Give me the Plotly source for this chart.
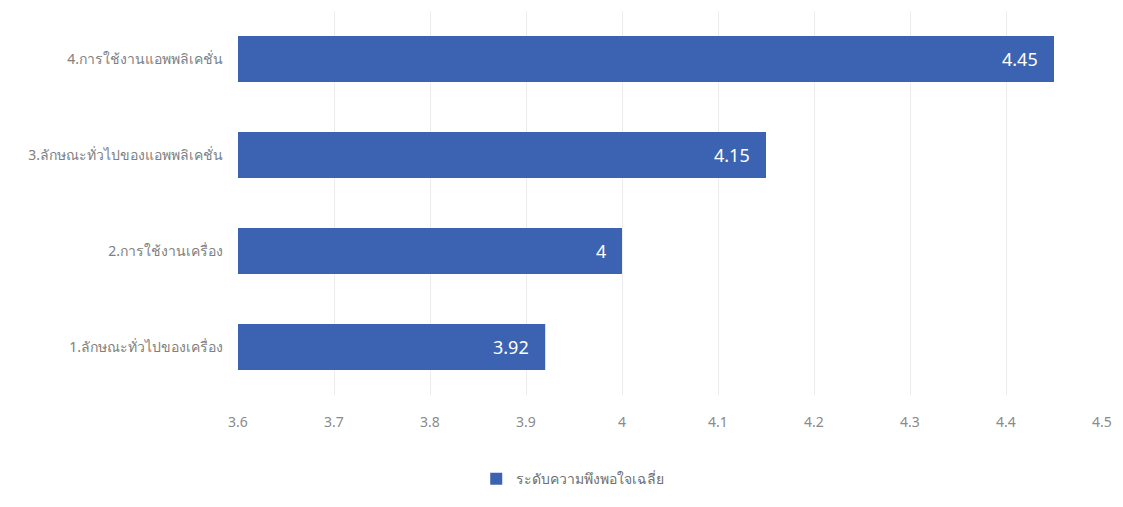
import plotly.graph_objects as go

categories = [
    "1.ลักษณะทั่วไปของเครื่อง",
    "2.การใช้งานเครื่อง",
    "3.ลักษณะทั่วไปของแอพพลิเคชั่น",
    "4.การใช้งานแอพพลิเคชั่น",
]
scores = [3.92, 4, 4.15, 4.45]
score_text = ["3.92", "4", "4.15", "4.45"]
series_name = "ระดับความพึงพอใจเฉลี่ย"
x_ticks = [3.6, 3.7, 3.8, 3.9, 4, 4.1, 4.2, 4.3, 4.4, 4.5]
x_tick_text = ["3.6", "3.7", "3.8", "3.9", "4", "4.1", "4.2", "4.3", "4.4", "4.5"]

bar_color = "#3b63b2"
font_family = "Tahoma, 'Noto Sans', 'DejaVu Sans', sans-serif"

fig = go.Figure(
    go.Bar(
        y=categories,
        x=scores,
        base=0,
        orientation="h",
        name=series_name,
        marker=dict(color=bar_color, line=dict(width=0)),
        width=0.48,
        showlegend=True,
    )
)

# value labels sit inside each bar, a little in from its end
for cat, val, label in zip(categories, scores, score_text):
    fig.add_annotation(
        x=val,
        y=cat,
        xref="x",
        yref="y",
        text=label,
        showarrow=False,
        xanchor="right",
        yanchor="middle",
        xshift=-14,
        font=dict(color="white", size=18, family=font_family),
    )

fig.update_layout(
    width=1123,
    height=507,
    margin=dict(l=238, r=17, t=11, b=112),
    paper_bgcolor="white",
    plot_bgcolor="white",
    font=dict(family=font_family, color="#808080", size=14),
    bargap=0.52,
    legend=dict(
        orientation="h",
        xref="container",
        x=0.51,
        xanchor="center",
        yref="container",
        y=0.055,
        yanchor="middle",
        font=dict(size=14, color="#707070"),
        itemwidth=30,
    ),
    xaxis=dict(
        range=[3.6, 4.5],
        tickvals=x_ticks,
        ticktext=x_tick_text,
        showgrid=True,
        gridcolor="#ececec",
        gridwidth=1,
        zeroline=False,
        showline=False,
        ticks="",
        tickfont=dict(size=14, color="#8a8a8a"),
        ticklabelstandoff=17,
    ),
    yaxis=dict(
        categoryorder="array",
        categoryarray=categories,
        showgrid=False,
        showline=False,
        ticks="",
        tickfont=dict(size=14, color="#808080"),
        ticklabelstandoff=14,
    ),
)

fig.write_html("out.html")
